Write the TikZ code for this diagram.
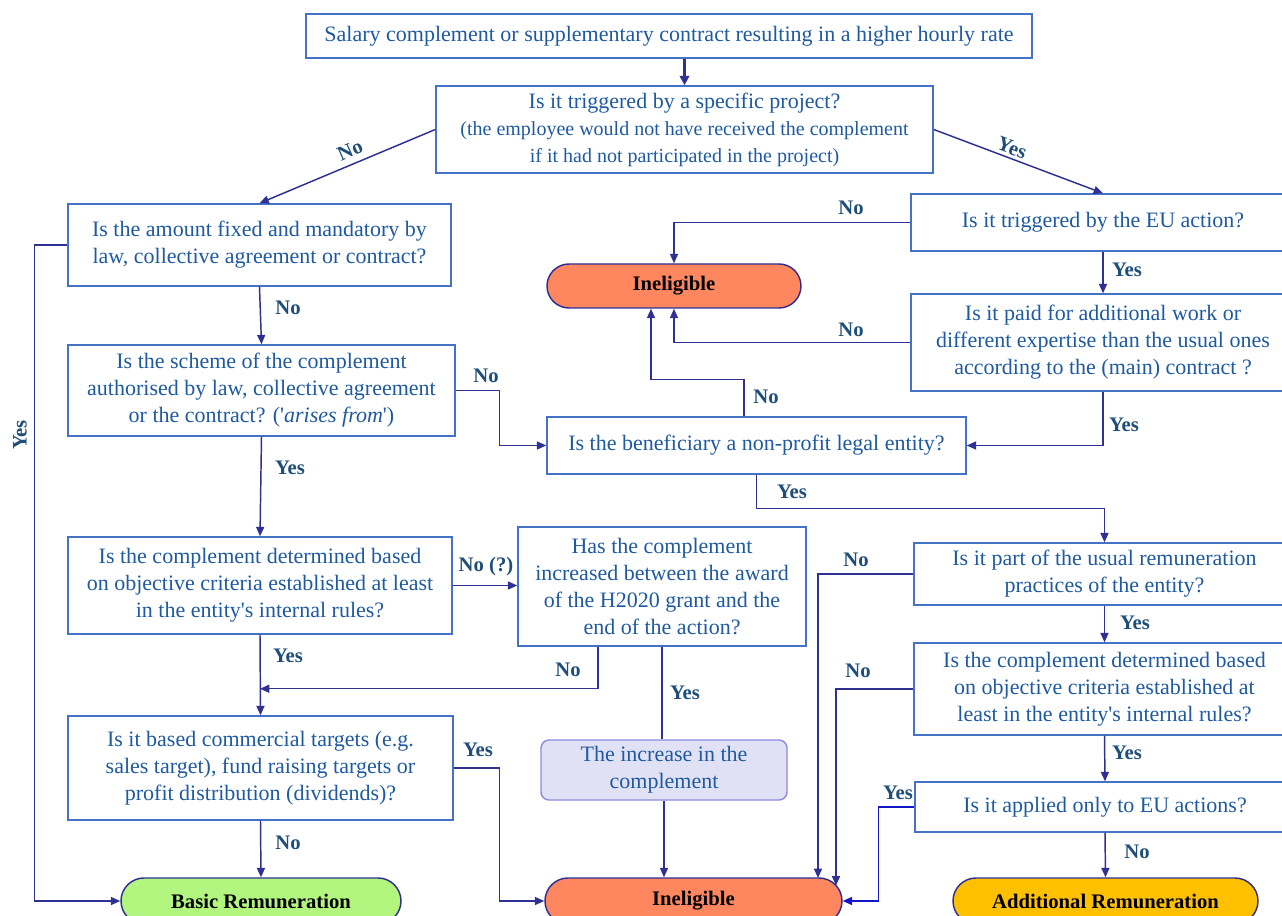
\documentclass[tikz,border=0pt]{standalone}
\usepackage{fontspec}
\setmainfont{Liberation Serif}
\usetikzlibrary{arrows.meta,shapes.misc,calc}
\definecolor{boxc}{RGB}{68,114,196}
\definecolor{txtc}{RGB}{31,90,160}
\definecolor{labc}{RGB}{31,78,121}
\definecolor{arrc}{RGB}{46,49,146}
\definecolor{ylwc}{RGB}{20,20,200}
\definecolor{inelc}{RGB}{255,135,95}
\definecolor{basicc}{RGB}{178,245,127}
\definecolor{addlc}{RGB}{255,192,0}
\definecolor{incrfill}{RGB}{225,225,245}
\definecolor{incrdraw}{RGB}{140,140,224}
\newcommand\mytxt{\fontsize{16.5}{20.3}\selectfont}
\newcommand\mysmall{\fontsize{15}{20.3}\selectfont}
\newcommand\mylab{\fontsize{15.5}{18}\selectfont\bfseries}
\newcommand\sq{\textquotesingle}
\tikzset{
 qbox/.style={draw=boxc, line width=1.1pt, text=txtc, align=center, inner sep=0pt, font=\mytxt, fill=white},
 sz/.style 2 args={minimum width=#1*0.75pt, minimum height=#2*0.75pt},
 term/.style={rounded rectangle, draw=arrc, line width=1.1pt, font=\mylab, text=black, inner sep=0pt},
 arr/.style={draw=arrc, line width=1.1pt, -{Triangle[length=7pt,width=6pt]}},
 lnk/.style={draw=arrc, line width=1.1pt},
 lab/.style={font=\mylab, text=labc, inner sep=0pt},
}
\begin{document}
\begin{tikzpicture}[x=0.75pt,y=-0.75pt]
\useasboundingbox (0,0) rectangle (1282,916);
\fill[white] (0,0) rectangle (1282,916);
\clip (0,0) rectangle (1282,916);

% boxes
\node[qbox, sz={726}{44}] (top) at (669,36) {Salary complement or supplementary contract resulting in a higher hourly rate};
\node[qbox, sz={497}{87}] (b2) at (684.5,129.5) {Is it triggered by a specific project?\\{\mysmall (the employee would not have received the complement}\\{\mysmall if it had not participated in the project)}};
\node[qbox, sz={383}{82}] (b3) at (259.5,245) {Is the amount fixed and mandatory by\\law, collective agreement or contract?};
\node[qbox, sz={387}{91}] (b4) at (261.5,390.5) {Is the scheme of the complement\\authorised by law, collective agreement\\or the contract? (\sq\textit{arises from}\sq)};
\node[qbox, sz={384}{97}] (b5) at (260,585.5) {Is the complement determined based\\on objective criteria established at least\\in the entity\sq s internal rules?};
\node[qbox, sz={385}{104}] (b6) at (260.5,768) {Is it based commercial targets (e.g.\\sales target), fund raising targets or\\profit distribution (dividends)?};
\node[qbox, sz={288}{119}] (h20) at (662,586.5) {Has the complement\\increased between the award\\of the H2020 grant and the\\end of the action?};
\node[qbox, sz={246}{60}, draw=incrdraw, fill=incrfill, rounded corners=6pt] (incr) at (664,770) {The increase in the\\complement};
\node[qbox, sz={419}{57}] (np) at (756.5,445.5) {Is the beneficiary a non-profit legal entity?};
\node[qbox, sz={384}{57}] (eu) at (1103,222.5) {Is it triggered by the EU action?};
\node[qbox, sz={384}{97}] (paid) at (1103,342.5) {Is it paid for additional work or\\different expertise than the usual ones\\according to the (main) contract ?};
\node[qbox, sz={381}{62}] (usual) at (1104.5,574) {Is it part of the usual remuneration\\practices of the entity?};
\node[qbox, sz={381}{92}] (obj) at (1104.5,689) {Is the complement determined based\\on objective criteria established at\\least in the entity\sq s internal rules?};
\node[qbox, sz={380}{50}] (applied) at (1105,807) {Is it applied only to EU actions?};

% terminals
\node[term, sz={254}{44}, fill=inelc] (inel1) at (674,286) {Ineligible};
\node[term, sz={280}{46}, fill=basicc] (basic) at (261,901) {Basic Remuneration};
\node[term, sz={297}{46}, fill=inelc] (inel2) at (693.5,901) {Ineligible};
\node[term, sz={305}{46}, fill=addlc] (addl) at (1105.5,901) {Additional Remuneration};

% connectors
\draw[arrc, line width=2.2pt, -{Triangle[length=7pt,width=7pt]}] (b2.north |- top.south) -- (b2.north);
\draw[arr] (b2.west) -- (b3.north);
\draw[arr] (b2.east) -- (eu.north);
\draw[arr] (b3.west) -- ++(-33,0) |- (basic.west);
\draw[arr] (b3.south) -- (b4.north);
\draw[arr] (b4.east) -- ++(44,0) |- (np.west);
\draw[arr] (b4.south) -- (b5.north);
\draw[arr] (b5.east) -- (b5.east -| h20.west);
\draw[arr] (b5.south) -- (b6.north);
\draw[arr] ([xshift=-48pt]h20.south) |- ($(b5.south)+(0,54)$);
\draw[arr] (b6.south) -- (basic.north);
\draw[arr] (b6.east) -- ++(46,0) |- (inel2.west);
\draw[lnk] (h20.south) -- (h20.south |- incr.north);
\draw[arr] (incr.south) -- (incr.south |- inel2.north);
\draw[arr] (eu.west) -| (inel1.north);
\draw[arr] (eu.south) -- (paid.north);
\draw[arr] (paid.west) -| (inel1.south);
\draw[arr] (paid.south) |- (np.east);
\draw[arr] ([xshift=-9.4pt]np.north) -- ++(0,-37) -| ([xshift=-17.25pt]inel1.south);
\draw[arr] (np.south) -- ++(0,34) -| (usual.north);
\draw[arr] (usual.west) -| ($(inel2.center)+(124.5,-23)$);
\draw[arr] (usual.south) -- (obj.north);
\draw[arr] (obj.west) -| ($(inel2.center)+(142.5,-15.5)$);
\draw[arr] (obj.south) -- (applied.north);
\draw[arr, draw=ylwc] (applied.west) -- ++(-36,0) |- (inel2.east);
\draw[arr] (applied.south) -- (addl.north);

% labels
\node[lab, rotate=24] (l1) at (350,150) {No};
\node[lab, rotate=-21] (l2) at (1012,148) {Yes};
\node[lab, rotate=90] (l3) at (20,435) {Yes};
\node[lab] (l4) at (288,308) {No};
\node[lab] (l5) at (486,376) {No};
\node[lab] (l6) at (290,468) {Yes};
\node[lab] (l7) at (486,567) {No (?)};
\node[lab] (l8) at (288,656) {Yes};
\node[lab] (l9) at (568,670) {No};
\node[lab] (l10) at (685,693) {Yes};
\node[lab] (l11) at (478,750) {Yes};
\node[lab] (l12) at (288,843) {No};
\node[lab] (l13) at (851,208) {No};
\node[lab] (l14) at (1127,270) {Yes};
\node[lab] (l15) at (851,330) {No};
\node[lab] (l16) at (1124,425) {Yes};
\node[lab] (l17) at (766,397) {No};
\node[lab] (l18) at (792,492) {Yes};
\node[lab] (l19) at (856,560) {No};
\node[lab] (l20) at (1135,623) {Yes};
\node[lab] (l21) at (858,671) {No};
\node[lab] (l22) at (1127,753) {Yes};
\node[lab] (l23) at (898,793) {Yes};
\node[lab] (l24) at (1137,852) {No};
\end{tikzpicture}
\end{document}
